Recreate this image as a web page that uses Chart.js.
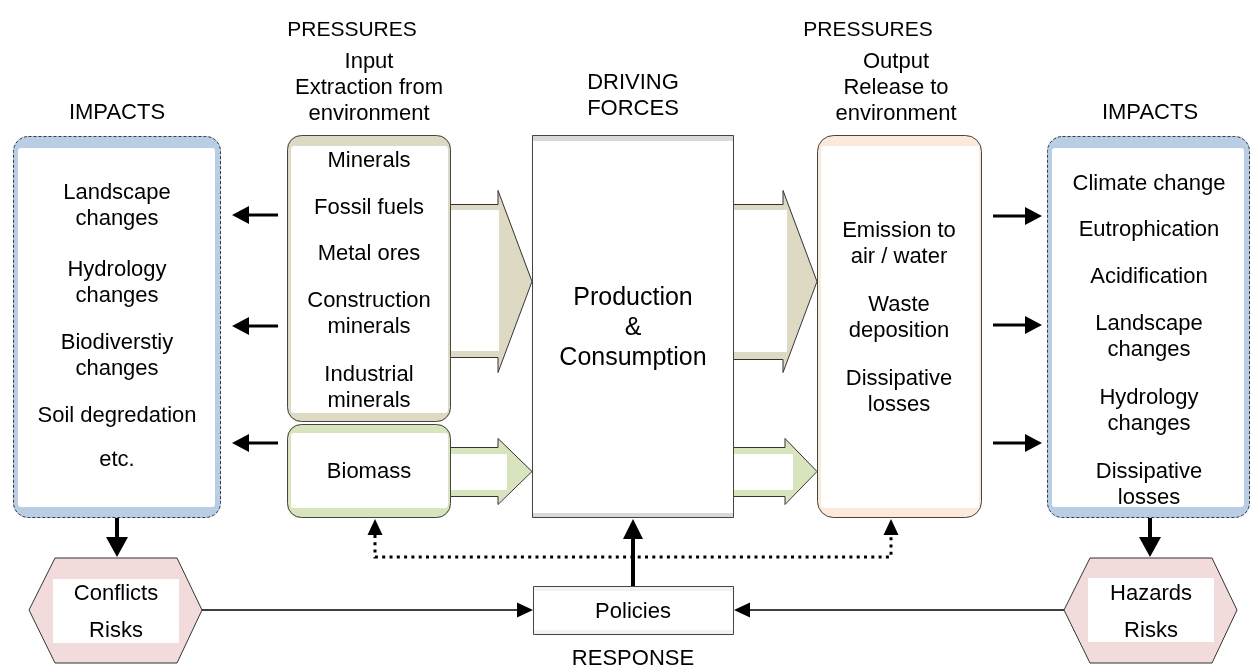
<!DOCTYPE html>
<html>
<head>
<meta charset="utf-8">
<script src="https://cdn.jsdelivr.net/npm/chart.js@4/dist/chart.umd.min.js"></script>
<style>
  html, body { margin: 0; padding: 0; background: #fff; }
</style>
</head>
<body>
<canvas id="diagrama" width="1252" height="671"></canvas>
<script>
// texts of the diagram
const impactsLeft = [['Landscape', 'changes'], ['Hydrology', 'changes'], ['Biodiverstiy', 'changes'], ['Soil degredation'], ['etc.']];
const inputFlows = [['Minerals'], ['Fossil fuels'], ['Metal ores'], ['Construction', 'minerals'], ['Industrial', 'minerals']];
const biomassFlows = [['Biomass']];
const drivingForces = [['Production', '&', 'Consumption']];
const outputFlows = [['Emission to', 'air / water'], ['Waste', 'deposition'], ['Dissipative', 'losses']];
const impactsRight = [['Climate change'], ['Eutrophication'], ['Acidification'], ['Landscape', 'changes'], ['Hydrology', 'changes'], ['Dissipative', 'losses']];
const risksLeft = [['Conflicts'], ['Risks']];
const risksRight = [['Hazards'], ['Risks']];
const responseItems = [['Policies']];

const headerInput = ['PRESSURES', 'Input', 'Extraction from', 'environment'];
const headerOutput = ['PRESSURES', 'Output', 'Release to', 'environment'];
const headerDriving = ['DRIVING', 'FORCES'];
const headerImpacts = ['IMPACTS'];
const headerResponse = ['RESPONSE'];

// layout (diagram units = pixels of the 1252x671 picture)
const FONT = '"Liberation Sans", Arial, sans-serif';
const LINE = 26;

const panels = [
    { x0: 13, y0: 136, x1: 221, y1: 518, r: 15, fill: '#b9cde5', inset: [12, 6, 11, 5], dash: [3, 2] },
    { x0: 1047, y0: 136, x1: 1250, y1: 518, r: 15, fill: '#b9cde5', inset: [12, 6, 11, 5], dash: [3, 2] },
    { x0: 287, y0: 135, x1: 451, y1: 422, r: 14, fill: '#ddd9c3', inset: [11, 3, 9, 4] },
    { x0: 287, y0: 424, x1: 451, y1: 518, r: 14, fill: '#d7e4bd', inset: [9, 3, 10, 4] },
    { x0: 817, y0: 135, x1: 982, y1: 518, r: 16, fill: '#fde9d9', inset: [11, 3, 10, 4] },
    { x0: 532, y0: 135, x1: 734, y1: 518, r: 0, fill: '#d9d9d9', inset: [6, 1, 5, 1] },
    { x0: 533, y0: 586, x1: 734, y1: 635, r: 0, fill: '#f2f2f2', inset: [5, 1, 5, 1] },
];

const blockArrows = [
    { x0: 451, x1: 498, x2: 532, ty: [204, 357], hy: [190, 372], tip: 281, fill: '#ddd9c3', white: [499, 210, 351] },
    { x0: 734, x1: 783, x2: 817, ty: [204, 359], hy: [190, 372], tip: 281, fill: '#ddd9c3', white: [787, 210, 352] },
    { x0: 451, x1: 498, x2: 532, ty: [447, 496], hy: [438, 504], tip: 471, fill: '#d7e4bd', white: [507, 454, 490] },
    { x0: 734, x1: 785, x2: 817, ty: [447, 496], hy: [438, 504], tip: 471, fill: '#d7e4bd', white: [793, 454, 490] },
];

const hexagons = [
    { pts: [[29, 610], [55, 558], [177, 558], [202, 610], [177, 663], [55, 663]], inner: [53, 579, 179, 643] },
    { pts: [[1064, 610], [1090, 558], [1212, 558], [1237, 610], [1212, 663], [1090, 663]], inner: [1088, 578, 1214, 642] },
];

// [x0, y0, x1, y1, lineWidth, headLen, headHalf]
const arrows = [
    [278, 215, 232, 215, 3, 17, 9], [278, 326, 232, 326, 3, 17, 9], [278, 443, 232, 443, 3, 17, 9],
    [993, 216, 1042, 216, 3, 17, 9], [993, 325, 1042, 325, 3, 17, 9], [993, 443, 1042, 443, 3, 17, 9],
    [117, 518, 117, 557, 4, 20, 11], [1150, 518, 1150, 557, 4, 20, 11],
    [633, 586, 633, 519, 4, 20, 10],
    [202, 610, 533, 610, 1.5, 16, 7.5], [1064, 610, 734, 610, 1.5, 16, 7.5],
];

// [texts, centre x, first-line y of each item, font size]
const textBlocks = [
    [impactsLeft, 117, [193, 270, 343, 416, 460], 22],
    [inputFlows, 369, [161, 208, 254, 301, 375], 22],
    [biomassFlows, 369, [472], 22],
    [drivingForces, 633, [298], 25],
    [outputFlows, 899, [231, 305, 379], 22],
    [impactsRight, 1149, [184, 230, 277, 324, 398, 472], 22],
    [risksLeft, 116, [594, 631], 22],
    [risksRight, 1151, [594, 631], 22],
    [responseItems, 633, [612], 22],
    [[headerInput.slice(0, 1)], 352, [30], 21],
    [[headerInput.slice(1)], 369, [62], 22],
    [[headerOutput.slice(0, 1)], 868, [30], 21],
    [[headerOutput.slice(1)], 896, [62], 22],
    [[headerDriving], 633, [83], 22],
    [[headerImpacts], 117, [113], 22],
    [[headerImpacts], 1150, [113], 22],
    [[headerResponse], 633, [659], 22],
];

const diagramPlugin = {
    id: 'diagram',
    afterDraw(chart) {
        const { ctx } = chart;
        const sx = chart.scales.x;
        const sy = chart.scales.y;
        const X = v => sx.getPixelForValue(v);
        const Y = v => sy.getPixelForValue(v);

        ctx.save();
        ctx.lineJoin = 'miter';

        // boxes
        panels.forEach(p => {
            const [t, r, b, l] = p.inset;
            ctx.setLineDash([]);
            ctx.fillStyle = p.fill;
            ctx.beginPath();
            ctx.roundRect(X(p.x0), Y(p.y0), X(p.x1) - X(p.x0), Y(p.y1) - Y(p.y0), p.r);
            ctx.fill();
            ctx.fillStyle = '#fff';
            ctx.beginPath();
            ctx.roundRect(X(p.x0 + l), Y(p.y0 + t), X(p.x1 - r) - X(p.x0 + l), Y(p.y1 - b) - Y(p.y0 + t), p.r ? 3 : 0);
            ctx.fill();
            ctx.setLineDash(p.dash || []);
            ctx.strokeStyle = p.dash ? '#3a3a3a' : '#444';
            ctx.lineWidth = 1;
            ctx.beginPath();
            ctx.roundRect(X(p.x0) + 0.5, Y(p.y0) + 0.5, X(p.x1) - X(p.x0) - 1, Y(p.y1) - Y(p.y0) - 1, p.r);
            ctx.stroke();
        });
        ctx.setLineDash([]);

        // block arrows
        blockArrows.forEach(a => {
            const outline = [[a.x0, a.ty[0]], [a.x1, a.ty[0]], [a.x1, a.hy[0]], [a.x2, a.tip], [a.x1, a.hy[1]], [a.x1, a.ty[1]], [a.x0, a.ty[1]]];
            ctx.fillStyle = a.fill;
            ctx.beginPath();
            outline.forEach(([px, py], i) => (i ? ctx.lineTo(X(px), Y(py)) : ctx.moveTo(X(px), Y(py))));
            ctx.closePath();
            ctx.fill();
            ctx.fillStyle = '#fff';
            ctx.fillRect(X(a.x0), Y(a.white[1]), X(a.white[0]) - X(a.x0), Y(a.white[2]) - Y(a.white[1]));
            ctx.strokeStyle = '#333';
            ctx.lineWidth = 1;
            ctx.beginPath();
            outline.forEach(([px, py], i) => (i ? ctx.lineTo(X(px), Y(py) + 0.5) : ctx.moveTo(X(px), Y(py) + 0.5)));
            ctx.stroke();
        });

        // hexagons
        hexagons.forEach(h => {
            ctx.fillStyle = '#f2dcdb';
            ctx.beginPath();
            h.pts.forEach(([px, py], i) => (i ? ctx.lineTo(X(px), Y(py)) : ctx.moveTo(X(px), Y(py))));
            ctx.closePath();
            ctx.fill();
            ctx.strokeStyle = '#333';
            ctx.lineWidth = 1;
            ctx.stroke();
            const [ix0, iy0, ix1, iy1] = h.inner;
            ctx.fillStyle = '#fff';
            ctx.fillRect(X(ix0), Y(iy0), X(ix1) - X(ix0), Y(iy1) - Y(iy0));
        });

        // solid arrows
        ctx.fillStyle = '#000';
        ctx.strokeStyle = '#000';
        arrows.forEach(([x0, y0, x1, y1, lw, hl, hh]) => {
            const dx = x1 - x0, dy = y1 - y0;
            const len = Math.hypot(dx, dy);
            const ux = dx / len, uy = dy / len;
            const bx = x1 - ux * hl, by = y1 - uy * hl;
            ctx.lineWidth = lw;
            ctx.beginPath();
            ctx.moveTo(X(x0), Y(y0));
            ctx.lineTo(X(bx + ux), Y(by + uy));
            ctx.stroke();
            ctx.beginPath();
            ctx.moveTo(X(x1), Y(y1));
            ctx.lineTo(X(bx - uy * hh), Y(by + ux * hh));
            ctx.lineTo(X(bx + uy * hh), Y(by - ux * hh));
            ctx.closePath();
            ctx.fill();
        });

        // dotted feedback line
        ctx.lineWidth = 3;
        ctx.setLineDash([3, 4.3]);
        ctx.beginPath();
        ctx.moveTo(X(375), Y(535));
        ctx.lineTo(X(375), Y(557));
        ctx.lineTo(X(891), Y(557));
        ctx.lineTo(X(891), Y(535));
        ctx.stroke();
        ctx.setLineDash([]);
        [375, 891].forEach(hx => {
            ctx.beginPath();
            ctx.moveTo(X(hx), Y(519));
            ctx.lineTo(X(hx - 7.5), Y(535));
            ctx.lineTo(X(hx + 7.5), Y(535));
            ctx.closePath();
            ctx.fill();
        });

        // texts
        ctx.fillStyle = '#000';
        ctx.textAlign = 'center';
        ctx.textBaseline = 'middle';
        textBlocks.forEach(([items, cx, ys, size]) => {
            ctx.font = `${size}px ${FONT}`;
            const step = size > 22 ? 30 : LINE;
            items.forEach((lines, i) => {
                lines.forEach((line, j) => ctx.fillText(line, X(cx), Y(ys[i] + j * step)));
            });
        });

        ctx.restore();
    },
};

new Chart(document.getElementById('diagrama'), {
    type: 'scatter',
    data: { datasets: [{ data: [] }] },
    options: {
        responsive: false,
        animation: false,
        layout: { padding: 0 },
        plugins: {
            legend: { display: false },
            tooltip: { enabled: false },
        },
        scales: {
            x: { type: 'linear', min: 0, max: 1252, display: false },
            y: { type: 'linear', min: 0, max: 671, reverse: true, display: false },
        },
    },
    plugins: [diagramPlugin],
});
</script>
</body>
</html>
